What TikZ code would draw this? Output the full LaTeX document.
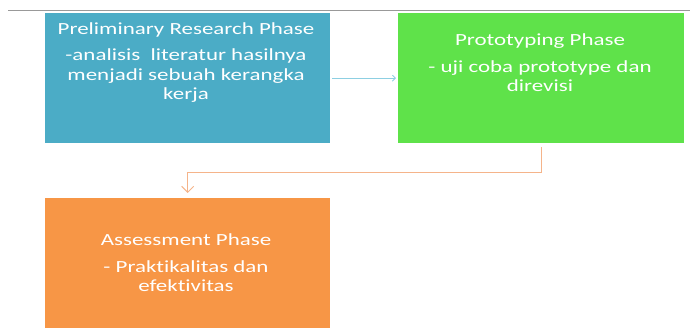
\documentclass[tikz,border=0pt]{standalone}
\usepackage{fontspec}
\setmainfont{Carlito}
\newfontfamily\widefont[FakeStretch=1.35,Ligatures={NoCommon}]{Carlito}
\usetikzlibrary{arrows.meta}
\definecolor{cblue}{HTML}{4BACC6}
\definecolor{cgreen}{HTML}{5FE24A}
\definecolor{corange}{HTML}{F79646}
\definecolor{cbluearr}{HTML}{8DCFE2}
\definecolor{corangearr}{HTML}{F5B48A}
\tikzset{
  box/.style={draw=none, inner sep=0pt, minimum width=285pt, minimum height=130pt},
  txt/.style={text=white, align=center, font=\widefont\fontsize{17}{19.5}\selectfont, inner sep=0pt},
}
\begin{document}
\begin{tikzpicture}[x=1pt,y=1pt]
\useasboundingbox (0,0) rectangle (690,-328);
\begin{scope}
\clip (0,0) rectangle (690,-328);
\draw[gray!80, line width=1pt, dash pattern=on 0.5pt off 0.5pt] (8,-11) -- (690,-11);
\node[box, fill=cblue, anchor=north west] (blue) at (45,-13) {};
\node[box, fill=cgreen, anchor=north west, minimum width=286pt] (green) at (398,-13) {};
\node[box, fill=corange, anchor=north west, minimum height=140pt] (orange) at (45,-198) {};
\node[txt, anchor=base] (t1) at (186,-100) {Preliminary Research Phase\\[7pt]-analisis\ \ literatur hasilnya\\menjadi sebuah kerangka\\kerja};
\node[txt, anchor=base] (t2) at (540,-92) {Prototyping Phase\\[7pt]- uji coba prototype dan\\direvisi};
\node[txt, anchor=base] (t3) at (186,-292) {Assessment Phase\\[7pt]- Praktikalitas dan\\efektivitas};
\draw[cbluearr, line width=0.9pt, -{Straight Barb[length=3pt,width=6pt]}, shorten <=2pt, shorten >=2pt] (blue) -- (green);
\draw[corangearr, line width=1pt, -{Straight Barb[length=6pt,width=12pt]}, shorten <=4pt, shorten >=5pt] (green.south) -- ++(0,-29) -| (orange.north);
\end{scope}
\end{tikzpicture}
\end{document}
